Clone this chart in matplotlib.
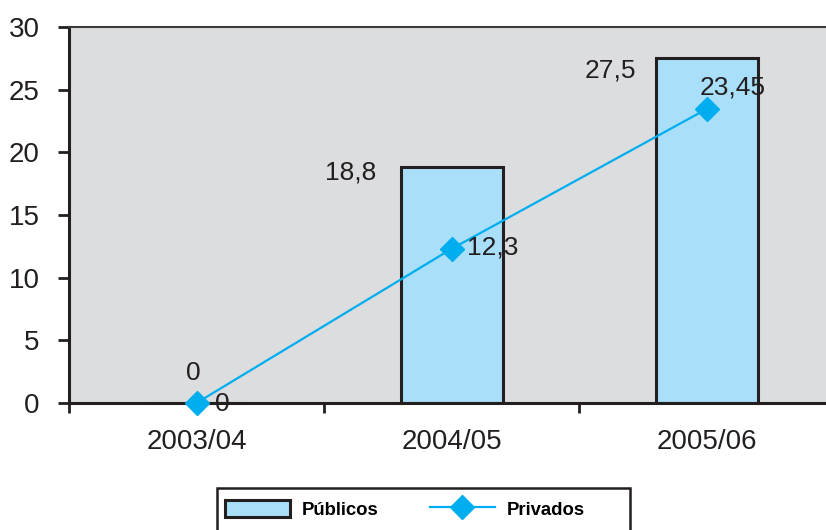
import numpy as np
import matplotlib
matplotlib.use("Agg")
import matplotlib.pyplot as plt
from matplotlib.patches import Rectangle
from matplotlib.ticker import FixedLocator

plt.rcParams['font.family'] = ['Liberation Sans', 'DejaVu Sans']

years = ['2003/04', '2004/05', '2005/06']
publicos = [0, 18.8, 27.5]
privados = [0, 12.3, 23.45]
pub_labels = ['0', '18,8', '27,5']
priv_labels = ['0', '12,3', '23,45']

# label offsets in pixels (dx, dy)
pub_offsets = [(-3, 30), (-101, -5), (-96, -12)]
priv_offsets = [(26, -1), (41, 1), (26, 22)]

dark = '#231F20'
blue = '#00AEEF'
fill = '#A9DFF9'

fig = plt.figure(figsize=(8.26, 5.30), dpi=100)
ax = fig.add_axes([69/826, 127/530, 765/826, 376/530])
ax.set_facecolor('#DCDDDF')

x = np.arange(len(years))
bars = ax.bar(x, publicos, width=0.4, color=fill, edgecolor=dark, linewidth=2.2,
              label='Públicos', zorder=2)
line, = ax.plot(x, privados, color=blue, linewidth=1.6, marker='D', markersize=12,
                markeredgecolor=blue, label='Privados', zorder=3, clip_on=False)

for i, (v, t) in enumerate(zip(publicos, pub_labels)):
    ax.annotate(t, (x[i], v), xytext=pub_offsets[i], textcoords='offset pixels',
                ha='center', va='center', fontsize=19, color=dark, zorder=4)
for i, (v, t) in enumerate(zip(privados, priv_labels)):
    ax.annotate(t, (x[i], v), xytext=priv_offsets[i], textcoords='offset pixels',
                ha='center', va='center', fontsize=19, color=dark, zorder=4)

ax.set_xlim(-0.5, 2.5)
ax.set_ylim(0, 30)
ax.set_yticks(np.arange(0, 31, 5))
ax.set_xticks(x)
ax.set_xticklabels(years)
ax.xaxis.set_minor_locator(FixedLocator([-0.5, 0.5, 1.5, 2.5]))
ax.tick_params(axis='x', which='major', length=0, pad=19, labelsize=20, labelcolor=dark)
ax.tick_params(axis='x', which='minor', length=7, width=2, color=dark, direction='out')
ax.tick_params(axis='y', length=8, width=2, color=dark, pad=13, labelsize=20, labelcolor=dark)

for s in ['left', 'bottom']:
    ax.spines[s].set_color(dark)
    ax.spines[s].set_linewidth(2.2)
ax.spines['top'].set_color('#3a3a3a')
ax.spines['top'].set_linewidth(1.5)
ax.spines['right'].set_visible(False)

# legend box runs off the bottom of the image
fig.patches.append(Rectangle((217/826, -0.1), 413/826, 0.1 + 42/530,
                             transform=fig.transFigure, facecolor='white',
                             edgecolor=dark, linewidth=1.8, zorder=1))
leg = fig.legend(handles=[bars, line], loc='upper left',
                 bbox_to_anchor=(225/826, 1 - 500/530), ncol=2, frameon=False,
                 prop={'weight': 'bold', 'size': 13.3},
                 handlelength=3.5, handleheight=1.0, handletextpad=0.65,
                 columnspacing=2.8, borderpad=0, borderaxespad=0)
leg.set_zorder(2)

fig.savefig('out.png', dpi=100)
